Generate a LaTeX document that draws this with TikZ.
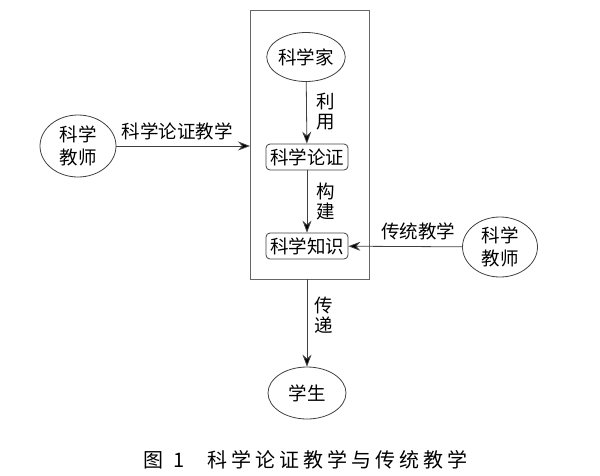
\documentclass[tikz,border=0pt]{standalone}
\usepackage{fontspec}
\setmainfont{Noto Sans CJK SC}
\usetikzlibrary{arrows.meta,shapes.geometric}
\tikzset{
  every node/.style={font=\fontsize{18.5}{21}\selectfont, inner sep=0pt},
  line/.style={draw=black!75, line width=0.8pt},
  arr/.style={line, -{Stealth[length=12pt,width=9pt,inset=4pt,fill=black]}},
  oval/.style={ellipse, draw=black!75, line width=0.8pt},
  rbox/.style={draw=black!75, line width=0.8pt, rounded corners=4pt, minimum width=82pt, minimum height=26pt},
  lbl/.style={align=center},
  captext/.style={font=\fontsize{20}{22}\selectfont},
}
\begin{document}
\begin{tikzpicture}[x=1pt,y=-1pt]
\useasboundingbox (0,0) rectangle (600,475);
\draw[line, draw=black!60] (250,10) rectangle (369,279);
\coordinate (fl) at (250,146);
\coordinate (fb) at (307,279);
\node[oval, minimum width=74pt, minimum height=49pt] (sci) at (306,57) {科学家};
\node[rbox] (arg) at (307,157) {科学论证};
\node[rbox] (kn) at (307,246) {科学知识};
\node[oval, minimum width=76pt, minimum height=62pt, lbl] (t1) at (78,146) {科学\\[2pt]教师};
\node[oval, minimum width=75pt, minimum height=60pt, lbl] (t2) at (500,247) {科学\\[2pt]教师};
\node[oval, minimum width=78pt, minimum height=52pt] (stu) at (307,393) {学生};
\draw[arr] (sci) -- (arg);
\draw[arr] (arg) -- (kn);
\draw[arr] (t1) -- (fl);
\draw[arr] (t2) -- (kn);
\draw[arr] (fb) -- (stu);
\node[lbl] (l1) at (326,112) {利\\[-1pt]用};
\node[lbl] (l2) at (326,201) {构\\[-1pt]建};
\node[lbl] (l3) at (324,315) {传\\[-1pt]递};
\node (l4) at (177,131) {科学论证教学};
\node (l5) at (418,231) {传统教学};
\node[captext, anchor=west] (c1) at (143,460) {图\hspace{10pt}1};
\node[captext, anchor=west] (c2) at (207,460) {\addfontfeature{LetterSpace=20}科学论证教学与传统教学};
\end{tikzpicture}
\end{document}
